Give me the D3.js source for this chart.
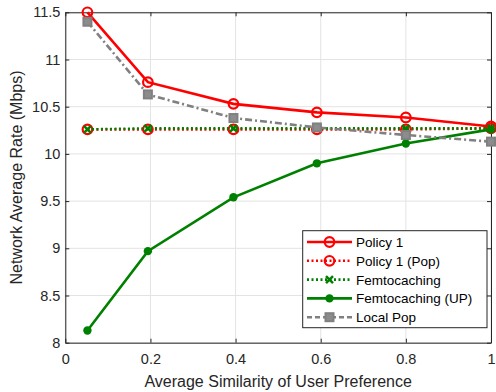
<!DOCTYPE html>
<html><head><meta charset="utf-8">
<script src="https://cdn.jsdelivr.net/npm/d3@7"></script>
<style>body{margin:0;background:#fff}svg{display:block}text{font-family:"Liberation Sans",Arial,sans-serif}</style>
</head><body><svg id="c" width="496" height="392"></svg>
<script>
const xVals = [0.052, 0.194, 0.395, 0.591, 0.8, 1.0];
const policy1 = [11.5, 10.76, 10.53, 10.44, 10.386, 10.29];
const policy1Pop = [10.26, 10.26, 10.26, 10.26, 10.26, 10.27];
const femto = [10.26, 10.27, 10.27, 10.27, 10.27, 10.27];
const femtoUP = [8.13, 8.97, 9.54, 9.90, 10.11, 10.26];
const localPop = [11.4, 10.63, 10.38, 10.28, 10.20, 10.13];
const xTicks = [0, 0.2, 0.4, 0.6, 0.8, 1];
const yTicks = [8, 8.5, 9, 9.5, 10, 10.5, 11, 11.5];

const L = 65.3, R = 491, T = 12.3, B = 342.7;
const svg = d3.select("#c");
const x = d3.scaleLinear().domain([0, 1]).range([L, R]);
const y = d3.scaleLinear().domain([8, 11.5]).range([B, T]);

// grid
svg.append("g").selectAll("line").data(xTicks).join("line")
  .attr("x1", d => x(d)).attr("x2", d => x(d)).attr("y1", T).attr("y2", B)
  .attr("stroke", "#e3e3e3").attr("stroke-width", 1);
svg.append("g").selectAll("line").data(yTicks).join("line")
  .attr("y1", d => y(d)).attr("y2", d => y(d)).attr("x1", L).attr("x2", R)
  .attr("stroke", "#e3e3e3").attr("stroke-width", 1);

// axes
const fmt = d => d3.format("")(d);
const gx = svg.append("g").attr("transform", `translate(0,${B})`)
  .call(d3.axisBottom(x).tickValues(xTicks).tickFormat(fmt).tickSizeInner(-4).tickSizeOuter(0).tickPadding(11));
const gy = svg.append("g").attr("transform", `translate(${L},0)`)
  .call(d3.axisLeft(y).tickValues(yTicks).tickFormat(fmt).tickSizeInner(-4).tickSizeOuter(0).tickPadding(5));
const gt = svg.append("g").attr("transform", `translate(0,${T})`)
  .call(d3.axisTop(x).tickValues(xTicks).tickFormat("").tickSizeInner(-4).tickSizeOuter(0));
const gr = svg.append("g").attr("transform", `translate(${R},0)`)
  .call(d3.axisRight(y).tickValues(yTicks).tickFormat("").tickSizeInner(-4).tickSizeOuter(0));
[gx, gy, gt, gr].forEach(g => {
  g.selectAll("path").attr("stroke", "#262626").attr("stroke-width", 1);
  g.selectAll("line").attr("stroke", "#262626");
  g.selectAll("text").attr("fill", "#262626").attr("font-size", 14.5)
    .style("font-family", '"Liberation Sans",Arial,sans-serif');
});

svg.append("text").attr("x", (L + R) / 2).attr("y", 386.5).attr("text-anchor", "middle")
  .attr("font-size", 16).attr("fill", "#262626").text("Average Similarity of User Preference");
svg.append("text").attr("transform", `translate(21.5,${(T + B) / 2}) rotate(-90)`).attr("text-anchor", "middle")
  .attr("font-size", 16).attr("fill", "#262626").text("Network Average Rate (Mbps)");

const series = [
  {name: "Policy 1", vals: policy1, color: "#ff0000", dash: null, marker: "circleOpen"},
  {name: "Policy 1 (Pop)", vals: policy1Pop, color: "#ff0000", dash: "2,2.5", marker: "circleOpen"},
  {name: "Femtocaching", vals: femto, color: "#008000", dash: "2,2.5", marker: "x"},
  {name: "Femtocaching (UP)", vals: femtoUP, color: "#008000", dash: null, marker: "circleFill"},
  {name: "Local Pop", vals: localPop, color: "#808080", dash: "7,3,2,3", marker: "square"}
];

const line = d3.line().x(d => x(d[0])).y(d => y(d[1]));

function drawMarker(g, cx, cy, s) {
  if (s.marker === "circleOpen") {
    g.append("circle").attr("cx", cx).attr("cy", cy).attr("r", 4.8)
      .attr("fill", "none").attr("stroke", s.color).attr("stroke-width", 2.2);
  } else if (s.marker === "circleFill") {
    g.append("circle").attr("cx", cx).attr("cy", cy).attr("r", 4.2).attr("fill", s.color);
  } else if (s.marker === "x") {
    const r = 3.5;
    g.append("path").attr("d", `M${cx-r},${cy-r}L${cx+r},${cy+r}M${cx-r},${cy+r}L${cx+r},${cy-r}`)
      .attr("stroke", s.color).attr("stroke-width", 2.5);
  } else if (s.marker === "square") {
    g.append("rect").attr("x", cx - 4).attr("y", cy - 4).attr("width", 8).attr("height", 8)
      .attr("fill", "#8c8c8c").attr("stroke", s.color).attr("stroke-width", 2);
  }
}

series.forEach(s => {
  const pts = xVals.map((xv, j) => [xv, s.vals[j]]);
  const g = svg.append("g");
  g.append("path").attr("d", line(pts)).attr("fill", "none").attr("stroke", s.color)
    .attr("stroke-width", 2.6).attr("stroke-dasharray", s.dash);
  pts.forEach(p => drawMarker(g, x(p[0]), y(p[1]), s));
});

// legend
const lg = svg.append("g");
lg.append("rect").attr("x", 302.7).attr("y", 230.7).attr("width", 184.3).attr("height", 97)
  .attr("fill", "#fff").attr("stroke", "#262626").attr("stroke-width", 1);
series.forEach((s, i) => {
  const cy = 242 + i * 18.8;
  lg.append("line").attr("x1", 307).attr("x2", 352).attr("y1", cy).attr("y2", cy)
    .attr("stroke", s.color).attr("stroke-width", 2.6)
    .attr("stroke-dasharray", s.marker === "square" ? "5,3" : s.dash);
  drawMarker(lg, 329.5, cy, s);
  lg.append("text").attr("x", 356).attr("y", cy + 5).attr("font-size", 13.5)
    .attr("fill", "#000").text(s.name);
});
</script></body></html>
